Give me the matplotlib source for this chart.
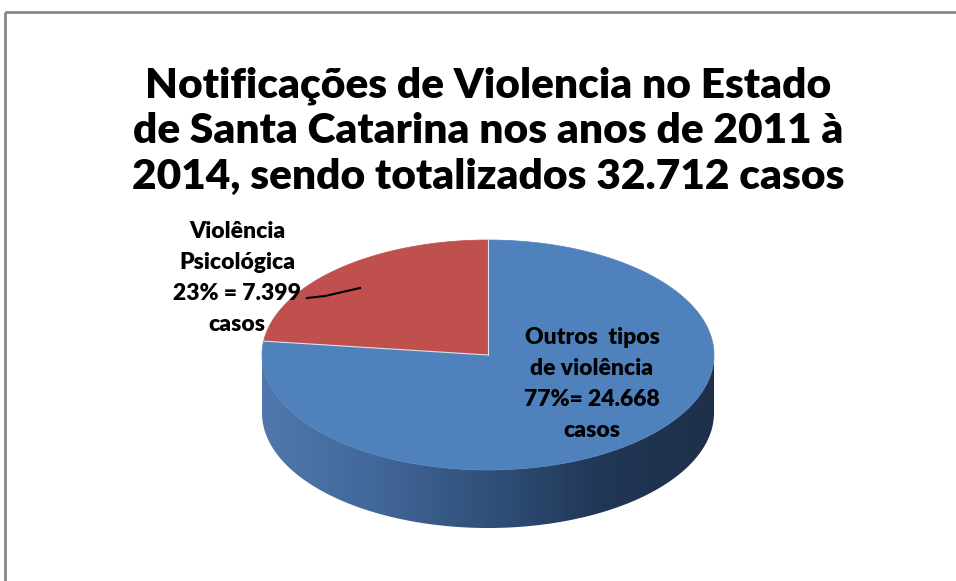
import matplotlib
matplotlib.use('Agg')
import matplotlib.pyplot as plt
import numpy as np
from matplotlib.patches import Polygon, Rectangle
from matplotlib.colors import LinearSegmentedColormap

# dados
title = ('Notificações de Violencia no Estado\n'
         'de Santa Catarina nos anos de 2011 à\n'
         '2014, sendo totalizados 32.712 casos')
categories = ['Outros tipos de violência', 'Violência Psicológica']
values = [24668, 7399]
labels = ['Outros  tipos\nde violência\n77%= 24.668\ncasos',
          'Violência\nPsicológica\n23% = 7.399\ncasos']
colors = ['#4f81bd', '#c0504d']

plt.rcParams['font.family'] = ['Lato', 'DejaVu Sans']

W, H = 956, 581
fig = plt.figure(figsize=(W / 100, H / 100), dpi=100)
ax = fig.add_axes([0, 0, 1, 1])
ax.set_xlim(0, W)
ax.set_ylim(H, 0)
ax.axis('off')

# pie geometry (pixels)
cx, cy, a, b, depth = 488, 355, 226, 115, 58


def pt(theta):
    t = np.radians(theta)
    return cx + a * np.cos(t), cy - b * np.sin(t)


# slice angles, clockwise from 12 o'clock
frac = np.array(values) / np.sum(values)
starts = 90 - np.concatenate([[0], np.cumsum(frac)[:-1]]) * 360
ends = starts - frac * 360

# side of the pie (front half, visible)
th = np.linspace(180, 360, 200)
xs, ys = pt(th)
side = np.vstack([np.column_stack([xs, ys]),
                  np.column_stack([xs[::-1], ys[::-1] + depth])])
poly = Polygon(side, closed=True, facecolor='none', edgecolor='none')
ax.add_patch(poly)
cmap = LinearSegmentedColormap.from_list(
    'side', ['#5078ad', '#42679a', '#30507a', '#213756', '#1e3049'])
grad = np.linspace(0, 1, 256).reshape(1, -1)
im = ax.imshow(grad, cmap=cmap, aspect='auto',
               extent=[cx - a, cx + a, cy + b + depth, cy - 5], zorder=1)
im.set_clip_path(poly)
ax.set_xlim(0, W)
ax.set_ylim(H, 0)

# top face
for s, e, c in zip(starts, ends, colors):
    th = np.linspace(s, e, 200)
    x, y = pt(th)
    verts = np.vstack([[cx, cy], np.column_stack([x, y])])
    ax.add_patch(Polygon(verts, closed=True, facecolor=c,
                         edgecolor=c, lw=0.5, zorder=2))
# slice dividers
for s in starts:
    x, y = pt(s)
    ax.plot([cx, x], [cy, y], color='#d9e2ee', lw=0.8, zorder=2.5)

# title
ax.text(488, 131, title, ha='center', va='center', fontsize=30.5,
        fontweight='heavy', linespacing=1.24, color='black')

# data labels
ax.text(592, 384, labels[0], ha='center', va='center', fontsize=16.5,
        fontweight='heavy', linespacing=1.6, zorder=3)
ax.text(237, 278, labels[1], ha='center', va='center', fontsize=16.5,
        fontweight='heavy', linespacing=1.6, zorder=3)
ax.plot([307, 325, 360], [298, 296, 288], color='black', lw=1.5, zorder=3)

# chart border
ax.add_patch(Rectangle((5, 12), W, H, facecolor='none',
                       edgecolor='#888888', lw=2, zorder=4))

fig.savefig('out.png', dpi=100)
